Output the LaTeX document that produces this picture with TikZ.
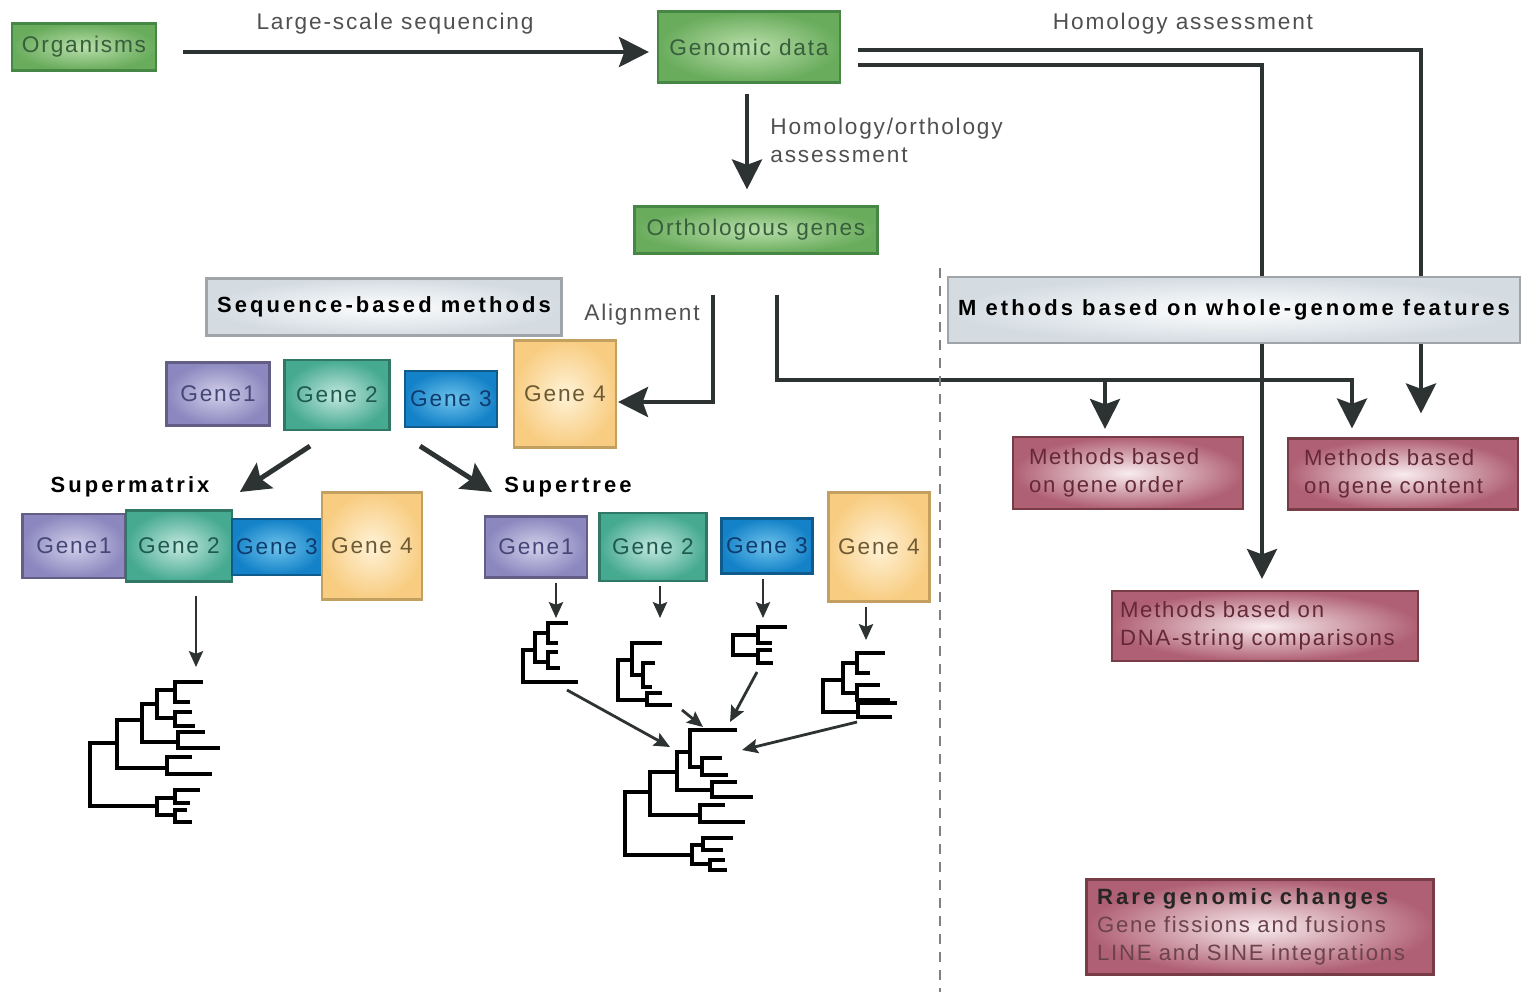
\documentclass[tikz,border=0pt]{standalone}
\usepackage{fontspec}
\setmainfont[LetterSpace=8]{Liberation Sans}
\usetikzlibrary{arrows.meta,backgrounds}

\newdimen\pxu \pxu=0.02cm

\definecolor{labgray}{RGB}{80,80,80}
\definecolor{arrgray}{RGB}{45,50,50}
\definecolor{grnout}{RGB}{105,172,92}
\definecolor{grnin}{RGB}{185,222,170}
\definecolor{grnline}{RGB}{70,135,70}
\definecolor{grntext}{RGB}{55,95,60}
\definecolor{hdfill}{RGB}{212,220,226}
\definecolor{hdline}{RGB}{160,165,170}
\definecolor{purout}{RGB}{140,135,190}
\definecolor{purin}{RGB}{210,208,235}
\definecolor{purtext}{RGB}{70,70,120}
\definecolor{tealout}{RGB}{70,170,145}
\definecolor{tealin}{RGB}{195,232,222}
\definecolor{tealtext}{RGB}{30,90,80}
\definecolor{bluout}{RGB}{20,130,200}
\definecolor{bluin}{RGB}{110,195,235}
\definecolor{blutext}{RGB}{15,60,110}
\definecolor{orout}{RGB}{248,205,130}
\definecolor{orin}{RGB}{255,242,215}
\definecolor{orline}{RGB}{195,160,95}
\definecolor{ortext}{RGB}{110,90,50}
\definecolor{mvout}{RGB}{176,96,116}
\definecolor{mvin}{RGB}{248,236,239}
\definecolor{mvline}{RGB}{120,60,70}
\definecolor{mvtext}{RGB}{100,40,55}

\tikzset{
  lbl/.style={font=\fontsize{12.9}{16}\selectfont, text=labgray, inner sep=0pt},
  boldlbl/.style={font=\fontsize{12.5}{16}\selectfont\bfseries\addfontfeatures{LetterSpace=14}, text=black, inner sep=0pt},
  box/.style={draw, line width=1.2pt, inner sep=0pt, font=\fontsize{12.9}{16}\selectfont},
  greenbox/.style={box, draw=grnline, inner color=grnin, outer color=grnout, text=grntext},
  headbox/.style={box, draw=hdline, inner color=white, outer color=hdfill, text=black,
    font=\fontsize{12.5}{16}\selectfont\bfseries\addfontfeatures{LetterSpace=14}},
  genea/.style={box, draw=purout!70!black, inner color=purin, outer color=purout, text=purtext},
  geneb/.style={box, draw=tealout!70!black, inner color=tealin, outer color=tealout, text=tealtext},
  genec/.style={box, draw=bluout!70!black, inner color=bluin, outer color=bluout, text=blutext},
  gened/.style={box, draw=orline, inner color=orin, outer color=orout, text=ortext},
  mauvebox/.style={box, draw=mvline, inner color=mvin, outer color=mvout, text=mvtext, align=left,
    font=\fontsize{12.6}{16}\selectfont},
  bigarr/.style={line width=2.8pt, draw=arrgray, -{Stealth[length=17pt,width=17pt,inset=3pt]}},
  thinarr/.style={line width=1.6pt, draw=arrgray, -{Stealth[length=9pt,width=8pt,inset=1.5pt]}},
  tree/.style={line width=2pt, draw=black}
}

\begin{document}
\begin{tikzpicture}[x=0.02cm,y=-0.02cm]
\useasboundingbox (0,0) rectangle (1523,992);

% top row
\node[greenbox, minimum width=144\pxu, minimum height=47\pxu] (org) at (84,47) {Organisms};
\node[greenbox, minimum width=182\pxu, minimum height=71\pxu] (gen) at (749,47) {Genomic data};
\node[greenbox, minimum width=243\pxu, minimum height=47\pxu] (orth) at (756,230) {Orthologous genes};
\node[lbl] (lss) at (395,24) {Large-scale sequencing};
\node[lbl] (hass) at (1183,24) {Homology assessment};
\node[lbl, anchor=west, align=left] (hoa) at (770,140) {Homology/orthology\\assessment};

% headings
\node[headbox, minimum width=355\pxu, minimum height=57\pxu] (seqm) at (384,307) {Sequence-based methods};
\node[headbox, minimum width=572\pxu, minimum height=66\pxu] (wgm) at (1234,310) {M ethods based on whole-genome features};
\node[lbl] (aln) at (642,315) {Alignment};

% aligned genes
\node[genea, minimum width=103\pxu, minimum height=63\pxu] (g1) at (218,394) {Gene1};
\node[geneb, minimum width=105\pxu, minimum height=70\pxu] (g2) at (337,395) {Gene 2};
\node[genec, minimum width=92\pxu, minimum height=56\pxu] (g3) at (451,399) {Gene 3};
\node[gened, minimum width=102\pxu, minimum height=107\pxu] (g4) at (565,394) {Gene 4};

\node[boldlbl] (smx) at (130,487) {Supermatrix};
\node[boldlbl] (stree) at (568,487) {Supertree};

% supermatrix
\node[genea, minimum width=103\pxu, minimum height=64\pxu] (mg1) at (74,546) {Gene1};
\node[geneb, minimum width=106\pxu, minimum height=71\pxu] (mg2) at (179,546) {Gene 2};
\node[genec, minimum width=90\pxu, minimum height=56\pxu] (mg3) at (277,547) {Gene 3};
\node[gened, minimum width=100\pxu, minimum height=107\pxu] (mg4) at (372,546) {Gene 4};

% supertree
\node[genea, minimum width=102\pxu, minimum height=61\pxu] (tg1) at (536,547) {Gene1};
\node[geneb, minimum width=107\pxu, minimum height=68\pxu] (tg2) at (653,547) {Gene 2};
\node[genec, minimum width=91\pxu, minimum height=55\pxu] (tg3) at (767,546) {Gene 3};
\node[gened, minimum width=101\pxu, minimum height=109\pxu] (tg4) at (879,547) {Gene 4};

% whole-genome methods
\node[mauvebox, minimum width=230\pxu, minimum height=72\pxu, text width=198\pxu] (order) at (1128,473) {Methods based\\on gene order};
\node[mauvebox, minimum width=230\pxu, minimum height=71\pxu, text width=198\pxu] (content) at (1403,474) {Methods based\\on gene content};
\node[mauvebox, minimum width=306\pxu, minimum height=70\pxu, text width=290\pxu] (dna) at (1265,626) {Methods based on\\DNA-string comparisons};
\node[mauvebox, minimum width=347\pxu, minimum height=95\pxu, text width=326\pxu] (rare) at (1260,927)
  {{\color{black!85}\bfseries\addfontfeatures{LetterSpace=14}Rare genomic changes}\\
   {\color{mvtext!70!gray}Gene fissions and fusions}\\
   {\color{mvtext!70!gray}LINE and SINE integrations}};

\coordinate (turn) at (1352,380);
\coordinate (branch) at (1105,380);
\coordinate (mtree) at (196,667);
\coordinate (tt1) at (556,618);
\coordinate (tt2) at (660,618);
\coordinate (tt3) at (763,618);
\coordinate (tt4) at (866,640);
\coordinate (st1) at (567,690);
\coordinate (st2) at (682,710);
\coordinate (st3) at (757,672);
\coordinate (st4) at (857,722);
\coordinate (ct1) at (670,747);
\coordinate (ct2) at (703,727);
\coordinate (ct3) at (730,722);
\coordinate (ct4) at (742,750);

\begin{pgfonlayer}{background}
\draw[bigarr, shorten <=26\pxu, shorten >=8\pxu] ([yshift=-5\pxu]org.east) -- ([yshift=-5\pxu]gen.west);
\draw[bigarr, shorten <=10\pxu, shorten >=16\pxu] ([xshift=-2\pxu]gen.south) -- ([xshift=-9\pxu]orth.north);
\draw[bigarr] ([xshift=17\pxu,yshift=-3\pxu]gen.east) -| ([xshift=18\pxu,yshift=24\pxu]content.north);
\draw[bigarr] ([xshift=17\pxu,yshift=-18\pxu]gen.east) -| ([xshift=-3\pxu,yshift=11\pxu]dna.north);
\draw[bigarr] ([xshift=-43\pxu,yshift=-40\pxu]orth.south) |- ([xshift=1\pxu,yshift=-8\pxu]g4.east);
\draw[bigarr] ([xshift=21\pxu,yshift=-40\pxu]orth.south) |- (turn) -- ([xshift=-51\pxu,yshift=9\pxu]content.north);
\draw[bigarr] (branch) -- ([xshift=-23\pxu,yshift=7\pxu]order.north);
\end{pgfonlayer}

\draw[bigarr] ([xshift=-27\pxu,yshift=-15\pxu]g2.south) -- ([xshift=30\pxu,yshift=-5\pxu]smx.east);
\draw[bigarr] ([xshift=83\pxu,yshift=-15\pxu]g2.south) -- ([xshift=-12\pxu,yshift=-5\pxu]stree.west);

\draw[thinarr, shorten <=13\pxu] (mtree |- mg2.south) -- (mtree);
\foreach \i in {1,...,4}
  \draw[thinarr, shorten <=4\pxu] (tt\i |- tg\i.south) -- (tt\i);
\foreach \i in {1,...,4}
  \draw[thinarr] (st\i) -- (ct\i);

% trees: x / ytop / ybottom / top end / bottom end
\foreach \a/\b/\c/\d/\e in {90/743/806/117/157, 117/720/768/142/167, 167/757/774/192/212,
  142/704/742/157/178, 178/732/748/205/220, 157/690/718/175/175, 175/682/702/203/190,
  175/712/726/192/195, 157/798/815/175/175, 175/790/803/200/190, 175/810/822/187/192}
  \draw[tree] (\d,\b) -| (\a,\c) -- (\e,\c);
\foreach \a/\b/\c/\d/\e in {625/792/855/650/692, 650/772/815/677/700, 700/805/822/725/745,
  677/752/790/690/712, 712/782/797/737/753, 690/730/767/737/702, 702/758/775/722/728,
  692/845/864/703/710, 703/838/850/733/723, 710/860/870/725/727}
  \draw[tree] (\d,\b) -| (\a,\c) -- (\e,\c);
\foreach \a/\b/\c/\d/\e in {523/650/682/535/578, 535/633/662/548/548, 548/623/643/568/558,
  548/652/668/558/560, 618/660/700/632/647, 647/693/705/662/672, 632/643/675/662/643,
  643/663/687/655/652, 733/635/655/758/758, 758/627/643/787/772, 758/650/663/772/773,
  823/680/712/843/858, 858/703/717/897/892, 843/663/693/857/857, 857/653/673/885/870,
  857/685/700/880/890}
  \draw[tree] (\d,\b) -| (\a,\c) -- (\e,\c);

\draw[gray, line width=1.2pt, dash pattern=on 10\pxu off 8\pxu] (940,268) -- (940,992);
\end{tikzpicture}
\end{document}
